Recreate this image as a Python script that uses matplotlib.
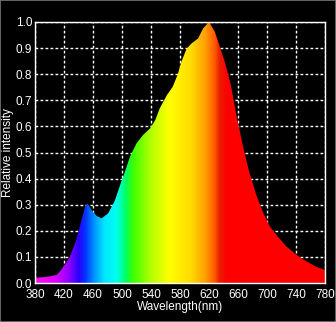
import matplotlib
matplotlib.use('Agg')
import matplotlib.pyplot as plt
import numpy as np
from matplotlib.colors import LinearSegmentedColormap
from matplotlib.patches import Rectangle

# spectrum
wavelength = [380, 390, 400, 410, 414, 421, 428, 437, 444, 449, 452, 458, 465, 472,
              481, 490, 497, 504, 511, 520, 529, 539, 546, 552, 562, 570, 577, 582,
              589, 596, 605, 612, 620, 628, 635, 642, 650, 658, 667, 676, 686, 695,
              704, 715, 727, 741, 755, 768, 780]
intensity = [0.020, 0.022, 0.025, 0.031, 0.043, 0.069, 0.10, 0.165, 0.24, 0.29, 0.305,
             0.28, 0.257, 0.248, 0.267, 0.315, 0.372, 0.426, 0.484, 0.535, 0.567, 0.593,
             0.625, 0.669, 0.72, 0.752, 0.80, 0.848, 0.897, 0.918, 0.937, 0.976, 1.0,
             0.963, 0.905, 0.845, 0.76, 0.64, 0.522, 0.42, 0.331, 0.267, 0.216, 0.177,
             0.139, 0.107, 0.082, 0.062, 0.05]

xticks = [380, 420, 460, 500, 540, 580, 620, 660, 700, 740, 780]
yticks = [0.0, 0.1, 0.2, 0.3, 0.4, 0.5, 0.6, 0.7, 0.8, 0.9, 1.0]

# colour stops for the rainbow fill (nm, colour)
color_stops = [(380, '#ff10e8'), (405, '#e600ff'), (425, '#9600ff'), (440, '#2800ff'),
               (450, '#003cff'), (460, '#008cff'), (475, '#00e6ff'), (492, '#00fff0'),
               (505, '#00ff60'), (515, '#3cff00'), (540, '#b4ff00'), (565, '#ffff00'),
               (595, '#ffdc00'), (615, '#ffa000'), (628, '#ff5a00'), (635, '#e62000'),
               (645, '#ff0000'), (780, '#ff0000')]

cmap = LinearSegmentedColormap.from_list(
    'spec', [((w - 380) / 400, c) for w, c in color_stops])

fig = plt.figure(figsize=(3.36, 3.22), dpi=100, facecolor='black')
ax = fig.add_axes([35 / 336, 1 - 283 / 322, 290 / 336, 261 / 322], facecolor='black')

ax.grid(True, color='white', linestyle=(0, (2, 1.6)), linewidth=1.0)
ax.set_axisbelow(True)

poly = ax.fill_between(wavelength, intensity, 0, color='none', lw=0)
grad = np.linspace(0, 1, 800).reshape(1, -1)
img = ax.imshow(grad, extent=[380, 780, 0, 1], aspect='auto', cmap=cmap,
                origin='lower', zorder=2)
path = poly.get_paths()[0]
img.set_clip_path(path, transform=ax.transData)

ax.set_xlim(380, 780)
ax.set_ylim(0, 1.0)
ax.set_xticks(xticks)
ax.set_yticks(yticks)
ax.set_yticklabels([f'{v:.1f}' for v in yticks])
ax.tick_params(colors='white', length=0, labelsize=8.5)
ax.tick_params(axis='x', pad=4)
ax.tick_params(axis='y', pad=2)
for lab in ax.get_xticklabels() + ax.get_yticklabels():
    lab.set_fontfamily('Liberation Sans')
for s in ax.spines.values():
    s.set_color('white')
    s.set_linewidth(1.0)
    s.set_zorder(5)

ax.set_xlabel('Wavelength(nm)', color='white', fontsize=8.5, family='Liberation Sans', labelpad=0.5)
ax.set_ylabel('Relative intensity', color='white', fontsize=8.5, family='Liberation Sans', labelpad=1)

fig.patches.append(Rectangle((0, 0), 1, 1, transform=fig.transFigure, fill=False,
                             edgecolor='#777777', linewidth=1.2))

fig.savefig('out.png', dpi=100, facecolor='black')
